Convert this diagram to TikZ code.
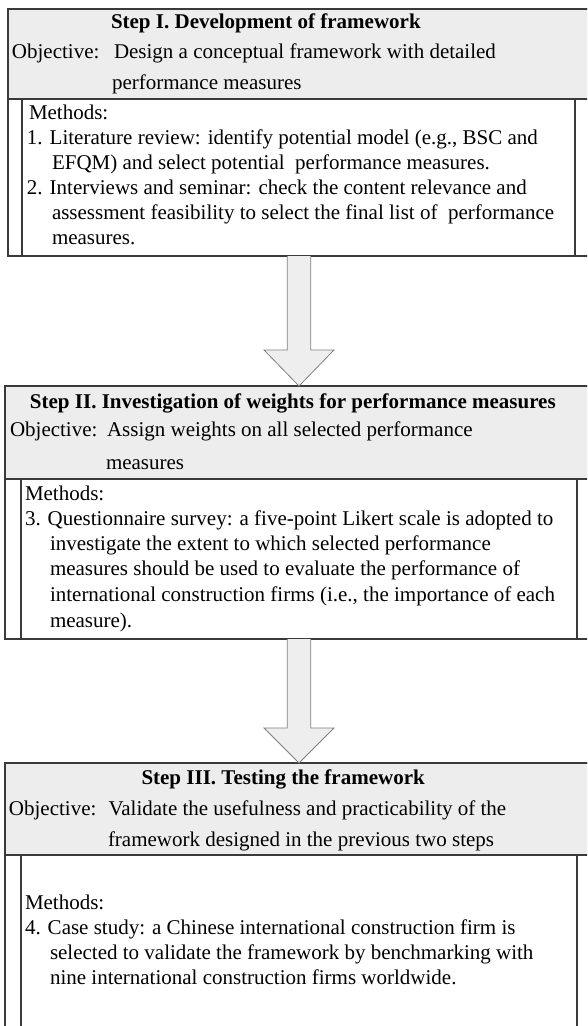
\documentclass[tikz,border=0pt]{standalone}
\usepackage{fontspec}
\setmainfont{Liberation Serif}
\definecolor{headgray}{HTML}{EDEDED}
\definecolor{arrowgray}{HTML}{EEEEEE}
\definecolor{arrowline}{HTML}{808080}
\definecolor{boxline}{HTML}{3A3A3A}
\begin{document}
\begin{tikzpicture}[x=1pt,y=-1pt,
  txt/.style={anchor=base west, inner sep=0pt, outer sep=0pt, font=\fontsize{21}{25}\selectfont},
  hd/.style={anchor=base west, inner sep=0pt, outer sep=0pt, font=\fontsize{21}{25}\selectfont\bfseries},
  boxshape/.style={rectangle, inner sep=0pt, outer sep=0pt, draw=boxline, line width=1.2pt},
  outerbox/.style={boxshape},
  headbox/.style={boxshape, fill=headgray},
  innerbox/.style={boxshape, fill=white},
  blockarrow/.style={fill=arrowgray, draw=arrowline, line width=0.8pt, line join=miter}]
\useasboundingbox (0,0) rectangle (587,1026);
\clip (0,0) rectangle (587,1026);

% ---------- Box 1 ----------
\node[outerbox, minimum width=592pt, minimum height=247pt] (b1) at (304,132.5) {};
\node[headbox, minimum width=592pt, minimum height=90pt] (h1) at (304,54) {};
\node[innerbox, minimum width=553pt, minimum height=157pt] (m1) at (298.5,177.5) {};
\node[hd] (t1) at (111,28) {Step I. Development of framework};
\node[txt] (o1) at (12,58) {Objective:};
\node[txt] (o1a) at (114,58) {Design a conceptual framework with detailed};
\node[txt] (o1b) at (112,89.5) {performance measures};
\node[txt] (me1) at (29,119) {Methods:};
\node[txt] (l11) at (27,144) {1. Literature review: identify potential model (e.g., BSC and};
\node[txt] (l12) at (52,169) {EFQM) and select potential \ performance measures.};
\node[txt] (l13) at (27,194) {2. Interviews and seminar: check the content relevance and};
\node[txt] (l14) at (52,219) {assessment feasibility to select the final list of \ performance};
\node[txt] (l15) at (52,244) {measures.};

% ---------- Box 2 ----------
\node[outerbox, minimum width=595pt, minimum height=253pt] (b2) at (302.5,512.5) {};
\node[headbox, minimum width=595pt, minimum height=93pt] (h2) at (302.5,432.5) {};
\node[innerbox, minimum width=556pt, minimum height=160pt] (m2) at (299,559) {};
\node[hd] (t2) at (30,408) {Step II. Investigation of weights for performance measures};
\node[txt] (o2) at (10,436) {Objective:};
\node[txt] (o2a) at (107,436) {Assign weights on all selected performance};
\node[txt] (o2b) at (106,469) {measures};
\node[txt] (me2) at (25,500) {Methods:};
\node[txt] (l21) at (25,525) {3. Questionnaire survey: a five-point Likert scale is adopted to};
\node[txt] (l22) at (50,550) {investigate the extent to which selected performance};
\node[txt] (l23) at (50,575) {measures should be used to evaluate the performance of};
\node[txt] (l24) at (50,601) {international construction firms (i.e., the importance of each};
\node[txt] (l25) at (50,627) {measure).};

% ---------- Box 3 ----------
\node[outerbox, minimum width=595pt, minimum height=277pt] (b3) at (302.5,901.5) {};
\node[headbox, minimum width=595pt, minimum height=92pt] (h3) at (302.5,809) {};
\node[innerbox, minimum width=556pt, minimum height=185pt] (m3) at (299,947.5) {};
\node[hd] (t3) at (141.5,784) {Step III. Testing the framework};
\node[txt] (o3) at (9,815) {Objective:};
\node[txt] (o3a) at (108.5,815) {Validate the usefulness and practicability of the};
\node[txt] (o3b) at (108,846) {framework designed in the previous two steps};
\node[txt] (me3) at (25,909) {Methods:};
\node[txt] (l31) at (25,934) {4. Case study: a Chinese international construction firm is};
\node[txt] (l32) at (50,959) {selected to validate the framework by benchmarking with};
\node[txt] (l33) at (50,984) {nine international construction firms worldwide.};

% ---------- Block arrows ----------
\coordinate (a1s) at (b1.south -| 299,0);
\coordinate (a1t) at (b2.north -| 299,0);
\draw[blockarrow] ([xshift=-11.75pt]a1s) -- ([xshift=-11.75pt]a1s |- 0,350) -- (264,350)
  -- (a1t) -- (334,350) -- ([xshift=11.75pt]a1s |- 0,350) -- ([xshift=11.75pt]a1s);
\coordinate (a2s) at (b2.south -| 299,0);
\coordinate (a2t) at (b3.north -| 299,0);
\draw[blockarrow] ([xshift=-11.75pt]a2s) -- ([xshift=-11.75pt]a2s |- 0,728) -- (264,728)
  -- (a2t) -- (334,728) -- ([xshift=11.75pt]a2s |- 0,728) -- ([xshift=11.75pt]a2s);
\end{tikzpicture}
\end{document}
